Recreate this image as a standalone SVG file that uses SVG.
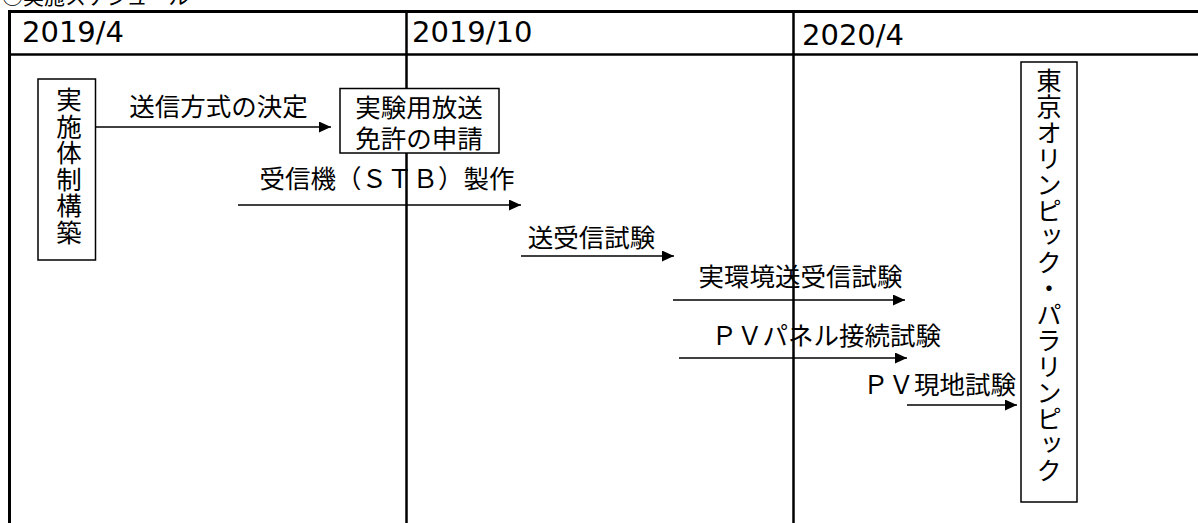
<svg xmlns="http://www.w3.org/2000/svg" width="1198" height="523" viewBox="0 0 1198 523">
  <defs>
    <marker id="arrow" markerUnits="userSpaceOnUse" markerWidth="13" markerHeight="11" refX="12" refY="5.5" orient="auto">
      <path d="M0,0 L12,5.5 L0,11 z" fill="#000"/>
    </marker>
    <style>
      .jp { font-family: "Noto Sans CJK JP", "Noto Sans", sans-serif; font-size: 25.5px; fill: #000; }
      .vert { writing-mode: vertical-rl; text-orientation: upright; }
      .date { font-family: "DejaVu Sans", "Liberation Sans", sans-serif; font-size: 29px; fill: #000; }
      .box { fill: #fff; stroke: #000; stroke-width: 1.5; }
      .grid { stroke: #000; fill: none; }
      .conn { stroke: #000; stroke-width: 1.6; fill: none; marker-end: url(#arrow); }
    </style>
  </defs>
  <rect width="1198" height="523" fill="#fff"/>

  <!-- cropped title -->
  <text x="2" y="4" style="font-family: 'Noto Sans CJK JP', sans-serif; font-size: 21px;">○実施スケジュール</text>

  <!-- table grid -->
  <g id="grid">
    <line class="grid" x1="9.5" y1="11.5" x2="1198" y2="11.5" stroke-width="3"/>
    <line class="grid" x1="9.5" y1="10" x2="9.5" y2="523" stroke-width="3"/>
    <line class="grid" x1="9.5" y1="54.5" x2="1198" y2="54.5" stroke-width="2.5"/>
    <line class="grid" x1="406.5" y1="11" x2="406.5" y2="523" stroke-width="2.5"/>
    <line class="grid" x1="793.5" y1="11" x2="793.5" y2="523" stroke-width="2.5"/>
  </g>

  <g id="headers">
    <text class="date" x="22" y="42">2019/4</text>
    <text class="date" x="412" y="42">2019/10</text>
    <text class="date" x="802" y="45">2020/4</text>
  </g>

  <!-- connectors -->
  <g id="connectors">
    <line class="conn" x1="95.5" y1="127" x2="331" y2="127"/>
    <line class="conn" x1="238" y1="205" x2="521" y2="205"/>
    <line class="conn" x1="521" y1="256" x2="674" y2="256"/>
    <line class="conn" x1="673" y1="300" x2="905" y2="300"/>
    <line class="conn" x1="679" y1="358" x2="907" y2="358"/>
    <line class="conn" x1="907" y1="405" x2="1017" y2="405"/>
  </g>

  <g id="labels">
    <text class="jp" x="218.5" y="116" text-anchor="middle">送信方式の決定</text>
    <text class="jp" x="387" y="188" text-anchor="middle">受信機（ＳＴＢ）製作</text>
    <text class="jp" x="591.5" y="247" text-anchor="middle">送受信試験</text>
    <text class="jp" x="800.5" y="286" text-anchor="middle">実環境送受信試験</text>
    <text class="jp" x="941" y="345" text-anchor="end">ＰＶパネル接続試験</text>
    <text class="jp" x="1016" y="394" text-anchor="end">ＰＶ現地試験</text>
  </g>

  <g id="node-jisshi">
    <rect class="box" x="38" y="79" width="57.5" height="181"/>
    <text class="jp vert" x="69" y="87" letter-spacing="1">実施体制構築</text>
  </g>

  <g id="node-menkyo">
    <rect class="box" x="340" y="88.5" width="159" height="64.5"/>
    <text class="jp" x="419" y="117" text-anchor="middle">実験用放送</text>
    <text class="jp" x="419" y="148" text-anchor="middle">免許の申請</text>
  </g>

  <g id="node-olympic">
    <rect class="box" x="1021" y="62" width="56" height="440"/>
    <text class="jp vert" x="1049" y="68" letter-spacing="0.5">東京オリンピック・パラリンピック</text>
  </g>
</svg>
